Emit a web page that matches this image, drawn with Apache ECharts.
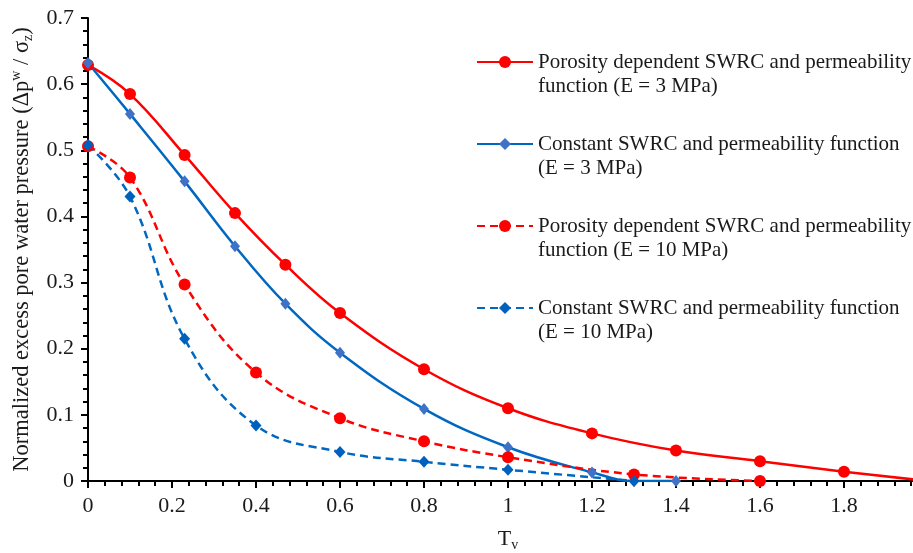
<!DOCTYPE html>
<html>
<head>
<meta charset="utf-8">
<script src="https://cdn.jsdelivr.net/npm/echarts@6/dist/echarts.min.js"></script>
<style>html,body{margin:0;padding:0;background:#fff;}#c{width:913px;height:553px;}</style>
</head>
<body>
<div id="c"></div>
<script>
// Data
const tvRed3 = [0, 0.1, 0.23, 0.35, 0.47, 0.6, 0.8, 1.0, 1.2, 1.4, 1.6, 1.8, 2.0];
const red3 = [0.629, 0.585, 0.493, 0.405, 0.327, 0.254, 0.169, 0.110, 0.072, 0.046, 0.030, 0.014, 0.0];
const tvBlue3 = [0, 0.1, 0.23, 0.35, 0.47, 0.6, 0.8, 1.0, 1.2, 1.3, 1.4];
const blue3 = [0.632, 0.555, 0.453, 0.355, 0.268, 0.194, 0.109, 0.051, 0.013, 0.0, 0.0];
const tvRed10 = [0, 0.1, 0.23, 0.4, 0.6, 0.8, 1.0, 1.3, 1.6];
const red10 = [0.506, 0.459, 0.297, 0.164, 0.095, 0.060, 0.036, 0.010, 0.0];
const tvBlue10 = [0, 0.1, 0.23, 0.4, 0.6, 0.8, 1.0, 1.3];
const blue10 = [0.508, 0.430, 0.215, 0.084, 0.044, 0.029, 0.017, 0.0];
const seriesNames = [
  'Porosity dependent SWRC and permeability\nfunction (E = 3 MPa)',
  'Constant SWRC and permeability function\n(E = 3 MPa)',
  'Porosity dependent SWRC and permeability\nfunction (E = 10 MPa)',
  'Constant SWRC and permeability function\n(E = 10 MPa)'
];
const xTickLabels = ['0', '0.2', '0.4', '0.6', '0.8', '1', '1.2', '1.4', '1.6', '1.8', '2'];
const yTickLabels = ['0', '0.1', '0.2', '0.3', '0.4', '0.5', '0.6', '0.7'];

const zip = (xs, ys) => xs.map((x, i) => [x, ys[i]]);
const FONT = '"Liberation Serif", "Times New Roman", serif';
const RED = '#FF0000', BLUE = '#0068C0';
const TXT = '#1a1a1a';

const chart = echarts.init(document.getElementById('c'), null, {renderer: 'canvas'});
chart.setOption({
  animation: false,
  backgroundColor: '#fff',
  grid: {left: 88, top: 18, bottom: 72, width: 840, containLabel: false, outerBoundsMode: 'none'},
  xAxis: {
    type: 'value', min: 0, max: 2.0, interval: 0.2,
    axisLine: {show: true, onZero: false, lineStyle: {color: '#000', width: 2}},
    axisTick: {show: true, length: 7, lineStyle: {color: '#000', width: 2}},
    minorTick: {show: true, splitNumber: 5, length: 5, lineStyle: {color: '#000', width: 2}},
    splitLine: {show: false},
    axisLabel: {
      margin: 14, color: TXT, fontFamily: FONT, fontSize: 22,
      formatter: (v) => { const i = Math.round(v / 0.2); return xTickLabels[i] ?? ''; }
    },
    name: '{a|T}{s|v}', nameLocation: 'middle', nameGap: 45,
    nameTextStyle: {
      color: TXT, fontFamily: FONT,
      rich: {a: {fontSize: 22, fontFamily: FONT, color: TXT, lineHeight: 26, verticalAlign: 'middle'},
             s: {fontSize: 14, fontFamily: FONT, color: TXT, lineHeight: 26, verticalAlign: 'bottom', padding: [8, 0, 0, 0]}}
    }
  },
  yAxis: {
    type: 'value', min: 0, max: 0.7, interval: 0.1,
    axisLine: {show: true, lineStyle: {color: '#000', width: 2}},
    axisTick: {show: true, length: 7, lineStyle: {color: '#000', width: 2}},
    minorTick: {show: true, splitNumber: 5, length: 5, lineStyle: {color: '#000', width: 2}},
    splitLine: {show: false},
    axisLabel: {
      margin: 14, color: TXT, fontFamily: FONT, fontSize: 22,
      formatter: (v) => { const i = Math.round(v / 0.1); return yTickLabels[i] ?? ''; }
    },
    name: '{a|Normalized excess pore water pressure (Δp}{u|w}{a| / σ}{d|z}{a|)}',
    nameLocation: 'middle', nameGap: 53,
    nameTextStyle: {
      color: TXT, fontFamily: FONT,
      rich: {a: {fontSize: 22.5, fontFamily: FONT, color: TXT, lineHeight: 26, verticalAlign: 'middle'},
             u: {fontSize: 14, fontFamily: FONT, color: TXT, lineHeight: 26, verticalAlign: 'top'},
             d: {fontSize: 14, fontFamily: FONT, color: TXT, lineHeight: 26, verticalAlign: 'bottom'}}
    }
  },
  legend: {
    orient: 'vertical', left: 476, top: 26, padding: 0,
    itemWidth: 56, itemHeight: 15, itemGap: 10,
    formatter: (name) => '\n' + name,
    textStyle: {fontFamily: FONT, fontSize: 21, color: TXT, lineHeight: 24, padding: [0, 0, 0, 0]},
    data: seriesNames
  },
  series: [
    {name: seriesNames[0], type: 'line', data: zip(tvRed3, red3), smooth: 0.4, clip: true,
     symbol: 'circle', symbolSize: 12, lineStyle: {color: RED, width: 2.5},
     itemStyle: {color: RED, borderWidth: 0}},
    {name: seriesNames[1], type: 'line', data: zip(tvBlue3, blue3), smooth: 0.4, clip: true,
     symbol: 'diamond', symbolSize: [10, 12], lineStyle: {color: BLUE, width: 2.5},
     itemStyle: {color: '#3F72C6', borderWidth: 0}},
    {name: seriesNames[2], type: 'line', data: zip(tvRed10, red10), smooth: 0.4, clip: true,
     symbol: 'circle', symbolSize: 12, lineStyle: {color: RED, width: 2.5, type: [8, 5]},
     itemStyle: {color: RED, borderWidth: 0}},
    {name: seriesNames[3], type: 'line', data: zip(tvBlue10, blue10), smooth: 0.4, clip: true,
     symbol: 'diamond', symbolSize: [11, 12], lineStyle: {color: BLUE, width: 2.5, type: [8, 5]},
     itemStyle: {color: '#0060BE', borderWidth: 0}}
  ]
});
</script>
</body>
</html>
